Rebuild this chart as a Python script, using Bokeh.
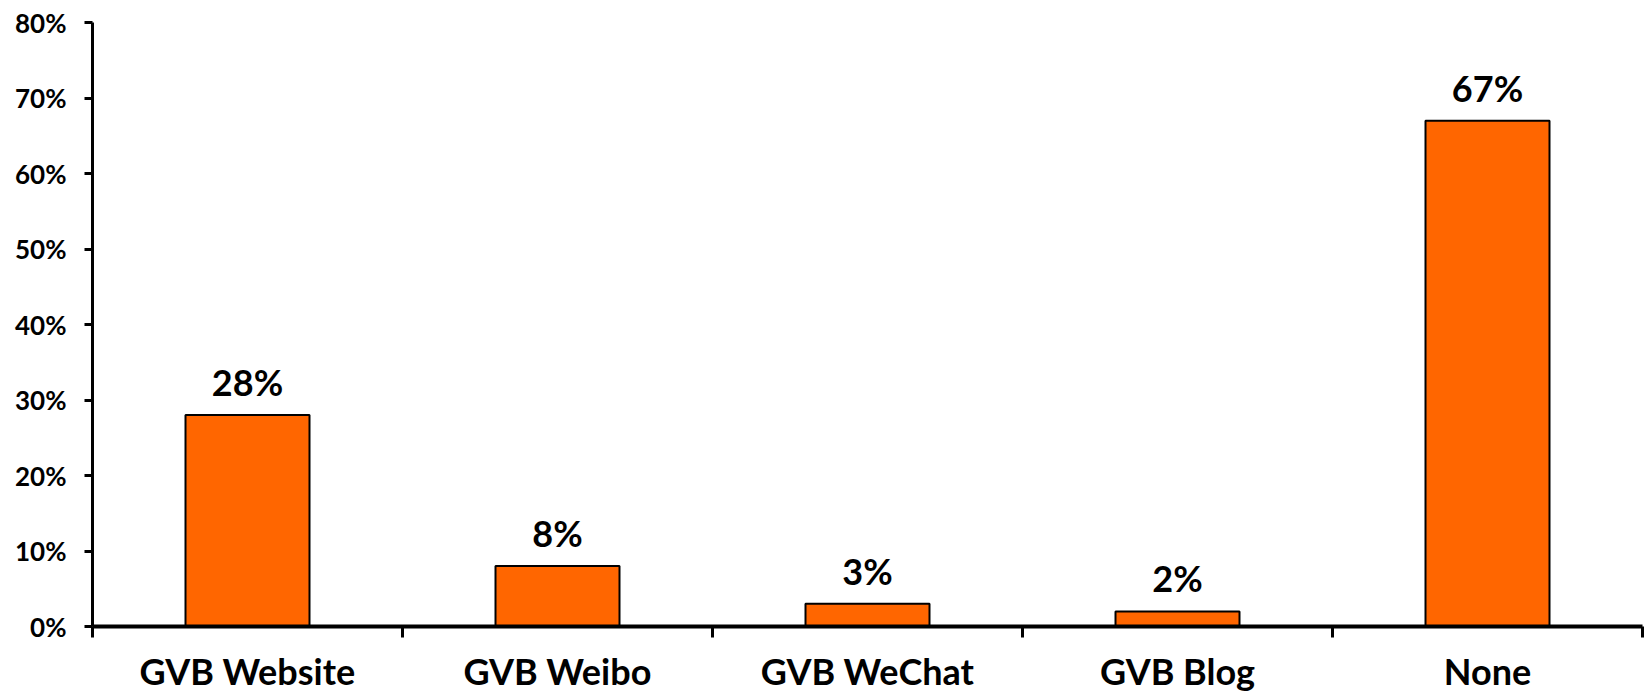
from bokeh.plotting import figure
from bokeh.models import ColumnDataSource, FixedTicker, NumeralTickFormatter, Range1d
from bokeh.core.properties import value
from bokeh.embed import file_html
from bokeh.resources import INLINE

categories = ["GVB Website", "GVB Weibo", "GVB WeChat", "GVB Blog", "None"]
shares = [0.28, 0.08, 0.03, 0.02, 0.67]
labels = ["28%", "8%", "3%", "2%", "67%"]
y_ticks = [0, 0.1, 0.2, 0.3, 0.4, 0.5, 0.6, 0.7, 0.8]

FONT = "Lato"
centers = [i + 0.5 for i in range(len(categories))]
src = ColumnDataSource(dict(x=centers, top=shares, label=labels))

p = figure(width=1644, height=697, output_backend="svg", toolbar_location=None,
           x_range=Range1d(0, len(categories)), y_range=Range1d(0, 0.8),
           min_border_left=92, min_border_right=2, min_border_top=22, min_border_bottom=71)
p.outline_line_color = None
p.xgrid.grid_line_color = None
p.ygrid.grid_line_color = None

p.vbar(x="x", top="top", width=0.4, bottom=0, source=src,
       fill_color="#FF6600", line_color="black", line_width=2)
p.text(x="x", y="top", text="label", source=src, text_align="center",
       text_baseline="alphabetic", y_offset=-33, text_font=value(FONT),
       text_font_style="bold", text_font_size="36px", text_color="black")

xa = p.xaxis[0]
xa.ticker = FixedTicker(ticks=centers, minor_ticks=list(range(len(categories) + 1)))
xa.major_label_overrides = {c: n for c, n in zip(centers, categories)}
xa.major_tick_line_color = None
xa.major_tick_out = 0
xa.major_tick_in = 0
xa.minor_tick_out = 11
xa.minor_tick_in = 0
xa.minor_tick_line_width = 3
xa.minor_tick_line_color = "black"
xa.axis_line_width = 4
xa.axis_line_color = "black"
xa.major_label_standoff = 11
xa.major_label_text_font = FONT
xa.major_label_text_font_style = "bold"
xa.major_label_text_font_size = "36px"
xa.major_label_text_color = "black"

ya = p.yaxis[0]
ya.ticker = FixedTicker(ticks=y_ticks, minor_ticks=[])
ya.formatter = NumeralTickFormatter(format="0%")
ya.major_tick_out = 8
ya.major_tick_in = 0
ya.major_tick_line_width = 3
ya.major_tick_line_color = "black"
ya.minor_tick_line_color = None
ya.axis_line_width = 3
ya.axis_line_color = "black"
ya.major_label_standoff = 18
ya.major_label_text_font = FONT
ya.major_label_text_font_style = "bold"
ya.major_label_text_font_size = "26px"
ya.major_label_text_color = "black"

open("out.html", "w").write(file_html(p, INLINE))
